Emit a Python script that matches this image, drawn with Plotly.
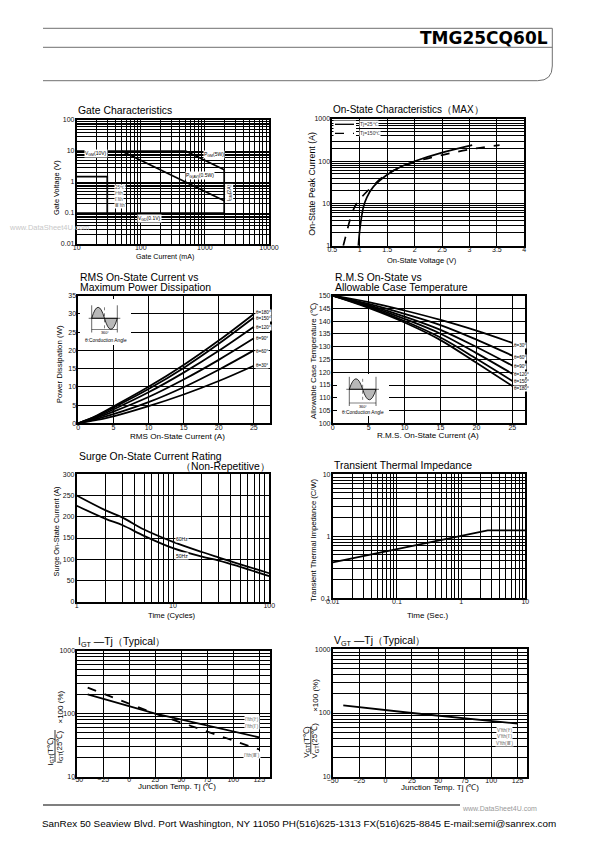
import math
import plotly.graph_objects as go

W, H = 595, 842
OFF = 8  # the page body margin places the figure 8 px in from the top-left corner
def px(x): return (x - OFF) / W
def py(y): return 1 - (y - OFF) / H
L10 = math.log10

FONT = "Liberation Sans, Arial, Helvetica, sans-serif"

# ---------------- data ----------------
# 1. Gate characteristics (I in mA, V in V)
GATE_VGM_I = [10, 500];    GATE_VGM_V = [10, 10]
GATE_PGM_I = [500, 2000];  GATE_PGM_V = [10, 2.5]
GATE_PGAV_I = [50, 2000];  GATE_PGAV_V = [10, 0.25]
GATE_IGM_I = [2000, 2000]; GATE_IGM_V = [0.1, 2.5]
GATE_VGD_I = [10, 2000];   GATE_VGD_V = [0.1, 0.1]
GATE_TRIG_I = [10, 30, 30]; GATE_TRIG_V = [1.5, 1.5, 0.1]
GATE_X_LABELS = ["10", "100", "1000", "10000"]
GATE_Y_LABELS = ["0.01", "0.1", "1", "10", "100"]

# 2. On-state characteristics
ON_V_25 = [0.975, 1.0, 1.03, 1.07, 1.13, 1.25, 1.5, 1.75, 2.0, 2.5, 3.05]
ON_I_25 = [1, 2.3, 4.5, 8.5, 14, 25, 48, 74, 100, 160, 240]
ON_V_150 = [0.7, 0.76, 0.82, 0.91, 1.0, 1.25, 1.5, 2.0, 2.5, 3.0, 3.55]
ON_I_150 = [1, 2, 4, 8.4, 12.5, 27, 50, 95, 140, 190, 240]
ON_X_TICKS = [0.5, 1, 1.5, 2, 2.5, 3, 3.5, 4]
ON_X_LABELS = ["0.5", "1", "1.5", "2", "2.5", "3", "3.5", "4"]
ON_Y_LABELS = ["1", "10", "100", "1000"]

# 3. RMS current vs power dissipation
RMS_I = [0, 2.5, 5, 10, 15, 20, 25]
PD_180 = [0, 2.0, 4.6, 10.0, 16.0, 22.7, 30.0]
PD_150 = [0, 1.9, 4.3, 9.4, 15.2, 21.8, 29.0]
PD_120 = [0, 1.7, 3.8, 8.5, 13.9, 19.9, 26.5]
PD_90 = [0, 1.45, 3.2, 7.2, 12.0, 17.4, 23.3]
PD_60 = [0, 1.15, 2.5, 5.8, 9.9, 14.7, 20.0]
PD_30 = [0, 0.85, 1.9, 4.7, 7.9, 11.6, 15.8]
PD_LABELS = ["θ=180°", "θ=150°", "θ=120°", "θ=90°", "θ=60°", "θ=30°"]
PD_LABEL_Y = [30.4, 28.8, 26.2, 23.3, 19.8, 15.8]
RMS_X_TICKS = [0, 5, 10, 15, 20, 25]
PD_Y_TICKS = [0, 5, 10, 15, 20, 25, 30, 35]

# 4. RMS current vs allowable case temperature
TC_I = [0, 5, 10, 15, 20, 25]
TC_30 = [150, 147.5, 144.2, 140.5, 136.3, 131.5]
TC_60 = [150, 146.8, 142.9, 138.5, 132.8, 126.5]
TC_90 = [150, 146.3, 141.8, 136.6, 129.9, 122.6]
TC_120 = [150, 145.9, 140.9, 135.1, 127.5, 119.4]
TC_150 = [150, 145.5, 140.1, 133.6, 125.3, 116.6]
TC_180 = [150, 145.2, 139.5, 132.6, 123.7, 114.6]
TC_LABELS = ["θ=30°", "θ=60°", "θ=90°", "θ=120°", "θ=150°", "θ=180°"]
TC_LABEL_Y = [130.3, 125.8, 122.2, 119.3, 116.4, 113.6]
TC_Y_TICKS = [100, 105, 110, 115, 120, 125, 130, 135, 140, 145, 150]

# 5. Surge on-state current
SURGE_N = [1, 2, 3, 5, 10, 20, 30, 50, 100]
SURGE_60 = [250, 215, 198, 170, 141, 117, 104, 88, 67]
SURGE_50 = [226, 195, 180, 155, 126, 106, 97, 82, 60]
SURGE_X_LABELS = ["1", "10", "100"]
SURGE_Y_TICKS = [0, 50, 100, 150, 200, 250, 300]

# 6. Transient thermal impedance
ZTH_T = [0.01, 0.03, 0.1, 0.3, 1, 2.6, 10]
ZTH_Z = [0.38, 0.48, 0.62, 0.8, 1.03, 1.25, 1.25]
ZTH_X_LABELS = ["0.01", "0.1", "1", "10"]
ZTH_Y_LABELS = ["0.1", "1", "10"]

# 7. IGT - Tj
TJ = [-40, 25, 125]
IGT_SOLID = [203, 100, 42]
IGT_DASH = [260, 100, 27]
# 8. VGT - Tj
VGT = [132, 100, 68]
TJ_X_TICKS = [-50, -25, 0, 25, 50, 75, 100, 125]
TJ_X_LABELS = ["−50", "−25", "0", "25", "50", "75", "100", "125"]
TJ_Y_LABELS = ["10", "100", "1000"]

# ---------------- helpers ----------------
DOMAINS = [
    (76.7, 269.0, 120.0, 244.0),
    (332.3, 524.3, 119.0, 245.7),
    (78.3, 270.0, 295.7, 423.3),
    (332.7, 525.3, 295.7, 423.3),
    (76.7, 269.3, 474.3, 601.7),
    (332.7, 525.3, 474.3, 598.3),
    (77.3, 270.0, 650.7, 776.7),
    (332.7, 526.7, 649.3, 776.7),
]
X_STANDOFF = [-4, -4, -4, -4, -4, -5, -5, -4]

def decades(lo, hi):
    return [10.0 ** e for e in range(lo, hi + 1)]

def minors(lo, hi):
    return [round(m * 10.0 ** e, 8) for e in range(lo, hi) for m in range(2, 10)]

fig = go.Figure()

def sfx(i):
    return "" if i == 1 else str(i)

def add_line(i, x, y, dash="solid", width=1.7, shape="linear"):
    fig.add_trace(go.Scatter(
        x=x, y=y, mode="lines",
        line=dict(color="black", width=width, dash=dash, shape=shape),
        xaxis="x" + sfx(i), yaxis="y" + sfx(i),
        showlegend=False, hoverinfo="skip"))

GW = 1.2
def axis(i, which, rng, vals, text, typ="linear", minor_vals=None, fs=7):
    d0 = DOMAINS[i - 1]
    if which == "x":
        dom = [px(d0[0]), px(d0[1])]
        anchor = "y" + sfx(i)
        stand = X_STANDOFF[i - 1]
    else:
        dom = [py(d0[3]), py(d0[2])]
        anchor = "x" + sfx(i)
        stand = -1
    d = dict(domain=dom, anchor=anchor, type=typ, range=rng, automargin=False,
             tickmode="array", tickvals=vals, ticktext=text,
             showgrid=True, gridcolor="black", gridwidth=GW,
             showline=True, linecolor="black", linewidth=1.7, mirror=True,
             zeroline=False, ticks="", fixedrange=True, ticklabelstandoff=stand,
             tickfont=dict(family=FONT, size=fs, color="#111"))
    if minor_vals:
        d["minor"] = dict(tickmode="array", tickvals=minor_vals, showgrid=True,
                          gridcolor="black", gridwidth=GW, ticks="")
    return d

# ---------------- traces ----------------
add_line(1, GATE_VGM_I, GATE_VGM_V)
add_line(1, GATE_PGM_I, GATE_PGM_V)
add_line(1, GATE_PGAV_I, GATE_PGAV_V)
add_line(1, GATE_IGM_I, GATE_IGM_V)
add_line(1, GATE_VGD_I, GATE_VGD_V)
add_line(1, GATE_TRIG_I, GATE_TRIG_V)
add_line(2, ON_V_25, ON_I_25, shape="spline")
add_line(2, ON_V_150, ON_I_150, dash="dash", shape="spline")
for ys in (PD_180, PD_150, PD_120, PD_90, PD_60, PD_30):
    add_line(3, RMS_I, ys, shape="spline", width=1.8)
for ys in (TC_30, TC_60, TC_90, TC_120, TC_150, TC_180):
    add_line(4, TC_I, ys, shape="spline", width=1.8)
add_line(5, SURGE_N, SURGE_60, shape="spline", width=1.8)
add_line(5, SURGE_N, SURGE_50, shape="spline", width=1.8)
add_line(6, ZTH_T, ZTH_Z, width=1.8)
add_line(7, TJ, IGT_SOLID, width=1.8)
add_line(7, TJ, IGT_DASH, dash="dash", width=1.8)
add_line(8, TJ, VGT, width=1.8)

# ---------------- axes ----------------
lay = {}
lay["xaxis"] = axis(1, "x", [1, 4], decades(1, 4), GATE_X_LABELS, "log", minors(1, 4))
lay["yaxis"] = axis(1, "y", [-2, 2], decades(-2, 2), GATE_Y_LABELS, "log", minors(-2, 2))
lay["xaxis2"] = axis(2, "x", [0.5, 4], ON_X_TICKS, ON_X_LABELS)
lay["yaxis2"] = axis(2, "y", [0, 3], decades(0, 3), ON_Y_LABELS, "log", minors(0, 3))
lay["xaxis3"] = axis(3, "x", [0, 27.3], RMS_X_TICKS, [str(a) for a in RMS_X_TICKS])
lay["yaxis3"] = axis(3, "y", [0, 35], PD_Y_TICKS, [str(a) for a in PD_Y_TICKS])
lay["xaxis4"] = axis(4, "x", [0, 26.8], RMS_X_TICKS, [str(a) for a in RMS_X_TICKS])
lay["yaxis4"] = axis(4, "y", [100, 150], TC_Y_TICKS, [str(a) for a in TC_Y_TICKS])
lay["xaxis5"] = axis(5, "x", [0, 2], decades(0, 2), SURGE_X_LABELS, "log", minors(0, 2))
lay["yaxis5"] = axis(5, "y", [0, 300], SURGE_Y_TICKS, [str(a) for a in SURGE_Y_TICKS])
lay["xaxis6"] = axis(6, "x", [-2, 1], decades(-2, 1), ZTH_X_LABELS, "log", minors(-2, 1))
lay["yaxis6"] = axis(6, "y", [-1, 1], decades(-1, 1), ZTH_Y_LABELS, "log", minors(-1, 1))
lay["xaxis7"] = axis(7, "x", [-50, 135.3], TJ_X_TICKS, TJ_X_LABELS)
lay["yaxis7"] = axis(7, "y", [1, 3], decades(1, 3), TJ_Y_LABELS, "log", minors(1, 3))
lay["xaxis8"] = axis(8, "x", [-50, 133.6], TJ_X_TICKS, TJ_X_LABELS)
lay["yaxis8"] = axis(8, "y", [1, 3], decades(1, 3), TJ_Y_LABELS, "log", minors(1, 3))

# ---------------- annotations ----------------
ann = []
def A(text, x, y, size=8, xa="center", ya="middle", angle=0, family=FONT,
      color="black", bg=None, xref="paper", yref="paper"):
    if xref == "paper":
        x = px(x)
    if yref == "paper":
        y = py(y)
    d = dict(text=text, x=x, y=y, xref=xref, yref=yref, showarrow=False,
             xanchor=xa, yanchor=ya, textangle=angle,
             font=dict(family=family, size=size, color=color), borderpad=0)
    if bg:
        d["bgcolor"] = bg
    ann.append(d)

# titles
TS = 10.4
A("Gate Characteristics", 76.7, 111, TS, xa="left")
A("On-State Characteristics（MAX）", 332.3, 110, 10, xa="left")
A("RMS On-State Current vs", 79.3, 277.3, TS, xa="left")
A("Maximum Power Dissipation", 79.3, 287.7, TS, xa="left")
A("R.M.S On-State vs", 334.3, 277.3, TS, xa="left")
A("Allowable Case Temperature", 334.3, 287.5, TS, xa="left")
A("Surge On-State Current Rating", 78.3, 456, TS, xa="left")
A("（Non-Repetitive）", 270.5, 466, TS, xa="right")
A("Transient Thermal Impedance", 333.3, 465, TS, xa="left")
A("I<sub>GT</sub> —Tj（Typical）", 77.3, 642.3, TS, xa="left")
A("V<sub>GT</sub> —Tj（Typical）", 333.3, 641.7, TS, xa="left")

# axis titles
A("Gate Current (mA)", 164.7, 257, 7.1)
A("Gate Voltage (V)", 56.7, 187.3, 7.4, angle=-90)
A("On-State Voltage (V)", 422.3, 260, 7.5)
A("On-State Peak Current (A)", 311.7, 184, 8.8, angle=-90)
A("RMS On-State Current (A)", 177, 436, 8.1)
A("Power Dissipation (W)", 59.3, 364, 7.9, angle=-90)
A("R.M.S. On-State Current (A)", 428.3, 435.5, 8.1)
A("Allowable Case Temperature (℃)", 313.3, 360.7, 7.9, angle=-90)
A("Time (Cycles)", 172, 615, 7.7)
A("Surge On-State Current (A)", 56.7, 531.7, 7.4, angle=-90)
A("Time (Sec.)", 427.3, 615, 8)
A("Transient Thermal Impedance (C/W)", 312.7, 540, 7.6, angle=-90)
A("Junction Temp. Tj (℃)", 177, 786.5, 8)
A("Junction Temp. Tj (℃)", 439.7, 787.5, 8)

# fraction y titles (7, 8)
A("I<sub>GT</sub>(T℃)", 50.7, 751, 8, angle=-90)
A("I<sub>GT</sub>(25℃)", 59.5, 746.7, 8, angle=-90)
A("×100 (%)", 59.5, 707, 8, angle=-90)
A("V<sub>GT</sub>(T℃)", 306.8, 742, 8, angle=-90)
A("V<sub>GT</sub>(25℃)", 314.8, 740.7, 8, angle=-90)
A("×100 (%)", 314.8, 695, 8, angle=-90)

# chart 1 labels
LS = 5
A("V<sub>GM</sub>(10V)", L10(20), L10(8.4), LS, bg="white", xref="x", yref="y")
A("P<sub>GM</sub>(5W)", 3.148, 0.903, LS, bg="white", xref="x", yref="y")
A("P<sub>G(AV)</sub>(0.5W)", 2.93, 0.194, LS, bg="white", xref="x", yref="y")
A("I<sub>GM</sub>(2A)", 3.376, -0.366, LS, angle=-90, bg="white", xref="x", yref="y")
A("V<sub>GD</sub>(0.1V)", 2.128, -1.17, LS, bg="white", xref="x", yref="y")
for txt, yy in zip(["25℃", "Ⅰ<sup>+</sup>fth", "Ⅰ<sup>−</sup>fth", "Ⅲ<sup>−</sup>fth"],
                   [-0.172, -0.344, -0.537, -0.731]):
    A(txt, 1.58, yy, 4.5, xa="left", bg="white", xref="x", yref="y", color="#444")

# chart 2 legend
A("Tj=25℃", 359, 124.3, 5, xa="left", bg="white", color="#333")
A("Tj=150℃", 359, 133.3, 5, xa="left", bg="white", color="#333")

# chart 3 labels
for txt, yy in zip(PD_LABELS, PD_LABEL_Y):
    A(txt, 25.2, yy, 4.6, xa="left", bg="white", xref="x3", yref="y3")
# chart 4 labels
for txt, yy in zip(TC_LABELS, TC_LABEL_Y):
    A(txt, 25.1, yy, 4.6, xa="left", bg="white", xref="x4", yref="y4")
# chart 5 labels
A("60Hz", 1.097, 148.5, 5, bg="white", xref="x5", yref="y5")
A("50Hz", 1.097, 107.6, 5, bg="white", xref="x5", yref="y5")
# chart 7 labels
for txt, yy in zip(["I'fth(Ⅰ<sup>+</sup>)", "I'fth(Ⅰ<sup>−</sup>)", "I'fth(Ⅲ<sup>−</sup>)"],
                   [81, 63, 21.8]):
    A(txt, 118, L10(yy), 4.6, bg="white", xref="x7", yref="y7", color="#666")
# chart 8 labels
for txt, yy in zip(["V'fth(Ⅰ<sup>+</sup>)", "V'fth(Ⅰ<sup>−</sup>)", "V'fth(Ⅲ<sup>−</sup>)"],
                   [54, 43.6, 33.4]):
    A(txt, 113, L10(yy), 4.6, bg="white", xref="x8", yref="y8", color="#666")

# header / footer text
A("<b>TMG25CQ60L</b>", 549, 37.7, 17, xa="right", family="DejaVu Sans, Liberation Sans, sans-serif")
A("www.DataSheet4U.com", 8, 228, 7.5, xa="left", color="#c8c8c8")
A("www.DataSheet4U.com", 461, 808.5, 7, xa="left", color="#999")
A("SanRex 50 Seaview Blvd. Port Washington, NY 11050 PH(516)625-1313 FX(516)625-8845 E-mail:semi@sanrex.com",
  299, 823, 9.9)

# inset icon texts
A("θ:Conduction Angle", 106, 340.7, 4.8)
A("360°", 104.5, 333, 3.8)
A("θ:Conduction Angle", 363.3, 412.3, 4.8)
A("360°", 362.6, 406.5, 3.8)

# ---------------- shapes ----------------
shapes = []
def S_line(x0, y0, x1, y1, color="black", width=1.0, dash="solid"):
    shapes.append(dict(type="line", xref="paper", yref="paper",
                       x0=px(x0), y0=py(y0), x1=px(x1), y1=py(y1),
                       line=dict(color=color, width=width, dash=dash), layer="above"))

# header
HC = "#707070"
S_line(43, 28.3, 552.3, 28.3, HC, 1)
S_line(43, 47.3, 552.3, 47.3, HC, 1)
shapes.append(dict(type="path", xref="paper", yref="paper",
                   path=f"M {px(552.3)},{py(28.3)} L {px(552.3)},{py(66)} "
                        f"Q {px(552.3)},{py(80.7)} {px(537.6)},{py(80.7)} L {px(43)},{py(80.7)}",
                   line=dict(color=HC, width=1)))
# footer line
S_line(43, 805, 460, 805, "black", 1.1)

# fraction bars
S_line(55, 730, 55, 762, "black", 0.8)
S_line(310.8, 726.7, 310.8, 754, "black", 0.8)

# chart 2 legend samples
shapes.append(dict(type="rect", xref="paper", yref="paper", x0=px(333.5), x1=px(356),
                   y0=py(136.5), y1=py(120.5), fillcolor="white", line=dict(width=0), layer="above"))
S_line(335, 124.3, 354, 124.3, "black", 1.3)
S_line(335, 133.3, 354, 133.3, "black", 1.3, "dash")

def icon(x0, y0, w, a, box, dim_y):
    bx0, by0, bx1, by1 = box
    shapes.append(dict(type="rect", xref="paper", yref="paper", x0=px(bx0), x1=px(bx1),
                       y0=py(by1), y1=py(by0), fillcolor="white", line=dict(width=0), layer="above"))
    p1 = (f"M {px(x0)},{py(y0)} Q {px(x0 + w / 2)},{py(y0 - 2 * a)} {px(x0 + w)},{py(y0)} Z")
    p2 = (f"M {px(x0 + w)},{py(y0)} Q {px(x0 + 1.5 * w)},{py(y0 + 2 * a)} {px(x0 + 2 * w)},{py(y0)} Z")
    for p in (p1, p2):
        shapes.append(dict(type="path", xref="paper", yref="paper", path=p,
                           fillcolor="rgba(0,0,0,0.28)", line=dict(color="black", width=0.8),
                           layer="above"))
    S_line(x0 - 3, y0, x0 + 2 * w + 3, y0, "black", 0.6)
    S_line(x0, y0 - a - 2, x0, dim_y + 3, "black", 0.6)
    S_line(x0 + 2 * w, y0 - a - 2, x0 + 2 * w, dim_y + 3, "black", 0.6)
    S_line(x0 + w, y0 - a, x0 + w, y0 + a, "black", 0.5, "dot")
    S_line(x0, dim_y, x0 + 2 * w, dim_y, "black", 0.5)

icon(91.7, 318.3, 12.8, 11.0, (80, 299, 131, 345), 329.5)
icon(349.3, 389.3, 13.35, 10.5, (337, 374, 389, 416), 403)

fig.update_layout(
    width=W, height=H,
    margin=dict(l=0, r=0, t=0, b=0, pad=0, autoexpand=False),
    paper_bgcolor="white", plot_bgcolor="white", showlegend=False,
    annotations=ann, shapes=shapes, **lay)

fig.write_html("out.html")
